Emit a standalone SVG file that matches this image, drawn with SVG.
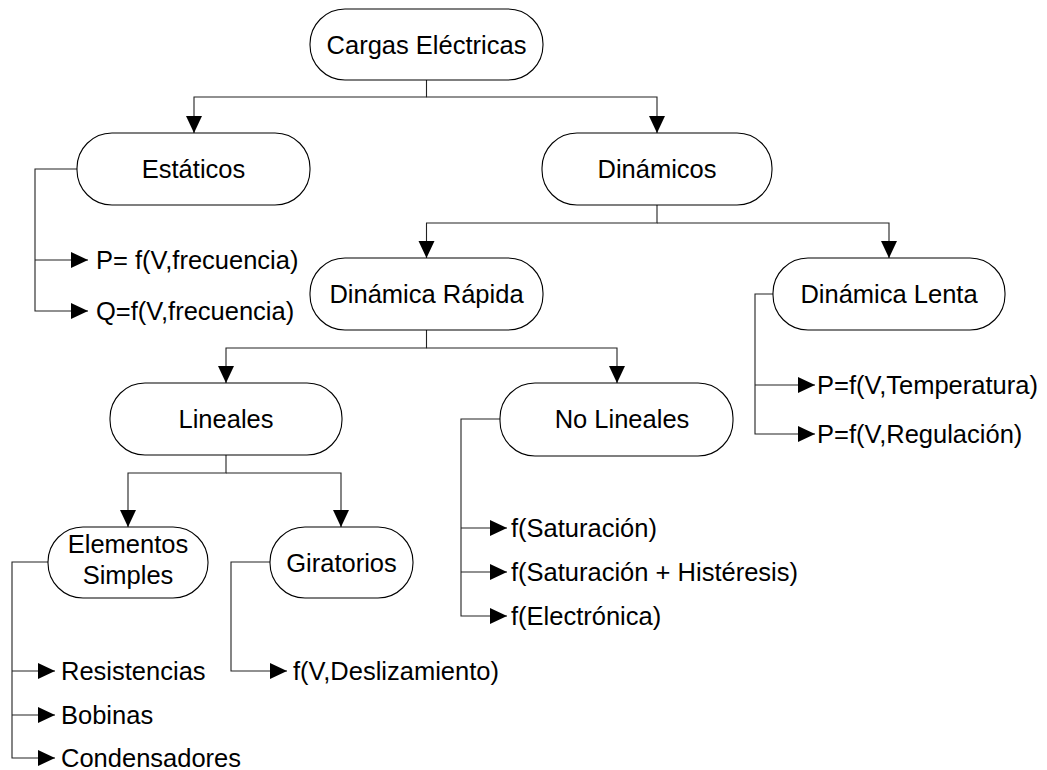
<svg xmlns="http://www.w3.org/2000/svg" width="1047" height="770" viewBox="0 0 1047 770">
  <defs>
    <marker id="arrow" markerUnits="userSpaceOnUse" markerWidth="18" markerHeight="18" refX="17" refY="8" orient="auto">
      <path d="M0,0 L17,8 L0,16 Z" fill="#000"/>
    </marker>
    <style>
      .node rect { fill: #fff; stroke: #000; stroke-width: 1.1; }
      .node text, .leaf { font-family: "Liberation Sans", Arial, sans-serif; font-size: 25.5px; fill: #000; }
      .node text { text-anchor: middle; }
      .conn path { fill: none; stroke: #222; stroke-width: 1.1; }
      .conn path.arr { marker-end: url(#arrow); }
    </style>
  </defs>
  <rect width="1047" height="770" fill="#fff"/>

  <!-- connectors -->
  <g id="connectors" class="conn">
    <path class="arr" d="M426.5,80 V97 H194 V133"/>
    <path class="arr" d="M426.5,97 H657 V133"/>
    <path class="arr" d="M657,205 V223 H426.5 V258"/>
    <path class="arr" d="M657,223 H889 V258"/>
    <path class="arr" d="M426.5,330 V348 H226 V383"/>
    <path class="arr" d="M426.5,348 H617 V383"/>
    <path class="arr" d="M226,455 V473 H128 V527"/>
    <path class="arr" d="M226,473 H341 V527"/>
    <!-- Estáticos -->
    <path class="arr" d="M77,169 H35 V311 H88"/>
    <path class="arr" d="M35,260 H88"/>
    <!-- Dinámica Lenta -->
    <path class="arr" d="M773,294 H755 V434 H815"/>
    <path class="arr" d="M755,385 H815"/>
    <!-- Elementos Simples -->
    <path class="arr" d="M48,562 H12 V758 H55"/>
    <path class="arr" d="M12,671 H55"/>
    <path class="arr" d="M12,715 H55"/>
    <!-- Giratorios -->
    <path class="arr" d="M270,562 H231 V671 H287"/>
    <!-- No Lineales -->
    <path class="arr" d="M500,419 H461 V616 H507"/>
    <path class="arr" d="M461,528 H507"/>
    <path class="arr" d="M461,572 H507"/>
  </g>

  <!-- nodes -->
  <g id="cargas" class="node">
    <rect x="310" y="9" width="233" height="71" rx="35" ry="35"/>
    <text x="426.5" y="53.5">Cargas Eléctricas</text>
  </g>
  <g id="estaticos" class="node">
    <rect x="77" y="133" width="233" height="72" rx="35" ry="35"/>
    <text x="193.5" y="178">Estáticos</text>
  </g>
  <g id="dinamicos" class="node">
    <rect x="542" y="133" width="230" height="72" rx="35" ry="35"/>
    <text x="657" y="178">Dinámicos</text>
  </g>
  <g id="rapida" class="node">
    <rect x="310" y="258" width="233" height="72" rx="35" ry="35"/>
    <text x="426.5" y="303">Dinámica Rápida</text>
  </g>
  <g id="lenta" class="node">
    <rect x="773" y="258" width="232" height="72" rx="35" ry="35"/>
    <text x="889" y="303">Dinámica Lenta</text>
  </g>
  <g id="lineales" class="node">
    <rect x="110" y="383" width="232" height="72" rx="35" ry="35"/>
    <text x="226" y="428">Lineales</text>
  </g>
  <g id="nolineales" class="node">
    <rect x="500" y="383" width="233" height="73" rx="35" ry="35"/>
    <text x="622" y="428">No Lineales</text>
  </g>
  <g id="elementos" class="node">
    <rect x="48" y="527" width="160" height="71" rx="35" ry="35"/>
    <text x="128" y="553">Elementos</text>
    <text x="128" y="584">Simples</text>
  </g>
  <g id="giratorios" class="node">
    <rect x="270" y="527" width="143" height="71" rx="35" ry="35"/>
    <text x="341.5" y="571.5">Giratorios</text>
  </g>

  <!-- leaf labels -->
  <g id="leaves">
    <text class="leaf" x="96" y="269">P= f(V,frecuencia)</text>
    <text class="leaf" x="96" y="320">Q=f(V,frecuencia)</text>
    <text class="leaf" x="817" y="394">P=f(V,Temperatura)</text>
    <text class="leaf" x="817" y="443">P=f(V,Regulación)</text>
    <text class="leaf" x="511" y="537">f(Saturación)</text>
    <text class="leaf" x="511" y="581">f(Saturación + Histéresis)</text>
    <text class="leaf" x="511" y="625">f(Electrónica)</text>
    <text class="leaf" x="293" y="680">f(V,Deslizamiento)</text>
    <text class="leaf" x="61" y="680">Resistencias</text>
    <text class="leaf" x="61" y="724">Bobinas</text>
    <text class="leaf" x="61" y="767">Condensadores</text>
  </g>
</svg>
